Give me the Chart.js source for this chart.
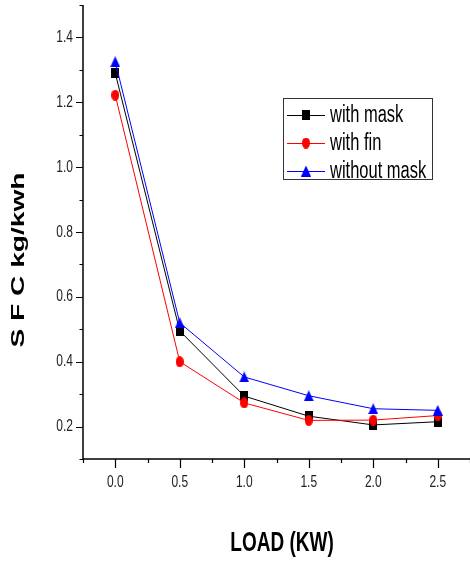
<!DOCTYPE html>
<html lang="en">
<head>
    <meta charset="UTF-8">
    <title>SFC vs Load</title>
    <script src="https://cdn.jsdelivr.net/npm/chart.js"></script>
    <style>
        body { margin: 0; background: #fff; }
        canvas { display: block; }
    </style>
</head>
<body>
<canvas id="mychart" width="470" height="562"></canvas>
<script>
    // load in kW and specific fuel consumption in kg/kWh
    const loads = [0.0, 0.5, 1.0, 1.5, 2.0, 2.5];
    const withMask = [1.29, 0.495, 0.294, 0.232, 0.205, 0.215];
    const withFin = [1.222, 0.40, 0.273, 0.219, 0.22, 0.234];
    const withoutMask = [1.325, 0.52, 0.353, 0.295, 0.255, 0.25];
    const seriesNames = ['with mask', 'with fin', 'without mask'];

    const xTicks = [0.0, 0.5, 1.0, 1.5, 2.0, 2.5];
    const yTicks = [0.2, 0.4, 0.6, 0.8, 1.0, 1.2, 1.4];

    const FONT = "'Liberation Sans', Arial, sans-serif";
    const STRETCH = 1.4;   // text in this figure is drawn tall

    // small canvases used as point markers (a bit taller than wide)
    function marker(w, h, color, shape) {
        const c = document.createElement('canvas');
        c.width = w; c.height = h;
        const g = c.getContext('2d');
        g.fillStyle = color;
        g.beginPath();
        if (shape === 'square') {
            g.rect(0, 0, w, h);
        } else if (shape === 'circle') {
            g.ellipse(w / 2, h / 2, w / 2, h / 2, 0, 0, Math.PI * 2);
        } else {
            g.moveTo(w / 2, 0);
            g.lineTo(w, h);
            g.lineTo(0, h);
            g.closePath();
        }
        g.fill();
        return c;
    }

    const squareMark = marker(8, 10, '#000000', 'square');
    const circleMark = marker(8, 11, '#ff0000', 'circle');
    const triangleMark = marker(10, 11, '#0000ff', 'triangle');

    function pts(values) {
        return loads.map((x, i) => ({x: x, y: values[i]}));
    }

    function stretchedText(ctx, text, x, y, sy) {
        ctx.save();
        ctx.translate(x, y);
        ctx.scale(1, sy);
        ctx.fillText(text, 0, 0);
        ctx.restore();
    }

    // axes, ticks, labels, titles and the boxed legend
    const decorations = {
        id: 'decorations',
        afterDraw(chart) {
            const ctx = chart.ctx;
            const area = chart.chartArea;
            const xs = chart.scales.x;
            const ys = chart.scales.y;

            ctx.save();
            ctx.strokeStyle = '#000';
            ctx.fillStyle = '#000';

            // axis lines
            ctx.lineWidth = 1.5;
            ctx.beginPath();
            ctx.moveTo(area.left, area.top);
            ctx.lineTo(area.left, area.bottom);
            ctx.lineTo(area.right, area.bottom);
            ctx.stroke();

            // x ticks: major on labels, minor half way between
            ctx.lineWidth = 1.2;
            ctx.beginPath();
            for (let v = xs.min; v <= xs.max + 1e-9; v += 0.25) {
                const major = xTicks.some(t => Math.abs(t - v) < 1e-9);
                const px = Math.round(xs.getPixelForValue(v)) + 0.5;
                ctx.moveTo(px, area.bottom);
                ctx.lineTo(px, area.bottom + (major ? 9 : 4));
            }
            // y ticks
            for (let v = ys.min; v <= ys.max + 1e-9; v += 0.1) {
                const major = yTicks.some(t => Math.abs(t - v) < 1e-9);
                const py = Math.round(ys.getPixelForValue(v)) + 0.5;
                ctx.moveTo(area.left, py);
                ctx.lineTo(area.left - (major ? 7 : 3.5), py);
            }
            ctx.stroke();

            // tick labels
            ctx.font = '12px ' + FONT;
            ctx.fillStyle = '#222';
            ctx.textBaseline = 'middle';
            ctx.textAlign = 'center';
            xs.ticks.forEach(t => {
                stretchedText(ctx, t.value.toFixed(1), xs.getPixelForValue(t.value), area.bottom + 23, STRETCH);
            });
            ctx.textAlign = 'right';
            ys.ticks.forEach(t => {
                stretchedText(ctx, t.value.toFixed(1), area.left - 10, ys.getPixelForValue(t.value), STRETCH);
            });

            // axis titles
            ctx.fillStyle = '#000';
            ctx.font = 'bold 19px ' + FONT;
            ctx.textAlign = 'center';
            stretchedText(ctx, 'LOAD (KW)', 282, 543, 1.45);

            ctx.font = 'bold 18px ' + FONT;
            const yTitle = 'S F C kg/kwh';
            const sx = 175 / ctx.measureText(yTitle).width;
            ctx.save();
            ctx.translate(19, 260);
            ctx.rotate(-Math.PI / 2);
            ctx.scale(sx, 1);
            ctx.fillText(yTitle, 0, 0);
            ctx.restore();

            // legend
            ctx.lineWidth = 1;
            ctx.strokeStyle = '#333';
            ctx.strokeRect(283.5, 98.5, 149, 81);
            const rows = [115, 143, 171];
            ctx.font = '16.5px ' + FONT;
            ctx.textAlign = 'left';
            chart.data.datasets.forEach((ds, i) => {
                const y = rows[i];
                ctx.strokeStyle = ds.borderColor;
                ctx.beginPath();
                ctx.moveTo(287, y + 0.5);
                ctx.lineTo(325, y + 0.5);
                ctx.stroke();
                const m = ds.pointStyle;
                ctx.drawImage(m, 306 - m.width / 2, y - m.height / 2);
                ctx.fillStyle = '#000';
                stretchedText(ctx, ds.label, 330, y + 1, STRETCH);
            });
            ctx.restore();
        }
    };

    const setting = {
        type: 'line',
        data: {
            datasets: [{
                label: seriesNames[0],
                data: pts(withMask),
                borderColor: '#000000',
                borderWidth: 1,
                pointStyle: squareMark,
                order: 3
            }, {
                label: seriesNames[1],
                data: pts(withFin),
                borderColor: '#ff0000',
                borderWidth: 1,
                pointStyle: circleMark,
                order: 2
            }, {
                label: seriesNames[2],
                data: pts(withoutMask),
                borderColor: '#0000ff',
                borderWidth: 1,
                pointStyle: triangleMark,
                order: 1
            }]
        },
        options: {
            responsive: false,
            animation: false,
            devicePixelRatio: 1,
            layout: {autoPadding: false, padding: {left: 83, top: 5, right: 0, bottom: 103}},
            plugins: {
                legend: {display: false},
                tooltip: {enabled: false}
            },
            scales: {
                x: {
                    type: 'linear',
                    min: -0.25,
                    max: 2.75,
                    afterBuildTicks: s => { s.ticks = xTicks.map(v => ({value: v})); },
                    ticks: {display: false},
                    grid: {display: false, drawTicks: false},
                    border: {display: false}
                },
                y: {
                    min: 0.1,
                    max: 1.5,
                    afterBuildTicks: s => { s.ticks = yTicks.map(v => ({value: v})); },
                    ticks: {display: false},
                    grid: {display: false, drawTicks: false},
                    border: {display: false}
                }
            }
        },
        plugins: [decorations]
    };

    new Chart(document.getElementById('mychart'), setting);
</script>
</body>
</html>
